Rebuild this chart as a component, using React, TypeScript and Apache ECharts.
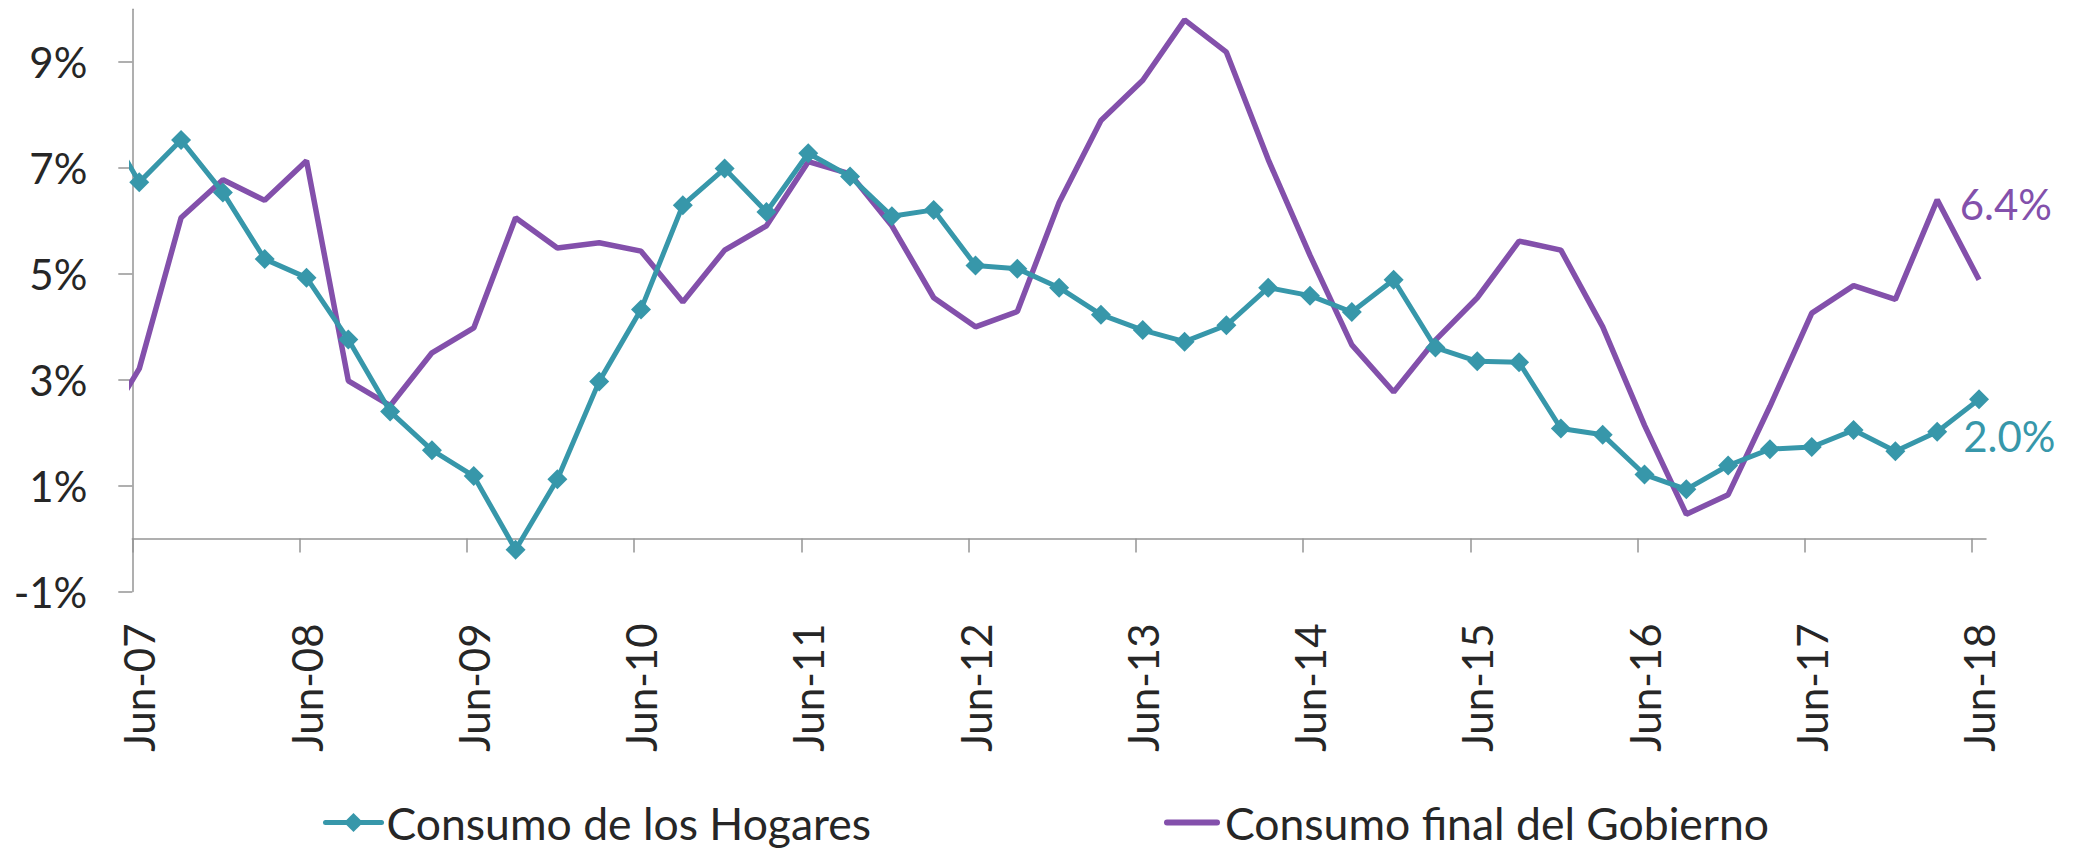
import React, { useEffect, useRef } from 'react';
import * as echarts from 'echarts';

// Quarterly observations (first one lies before the axis start and is clipped)
const quarters = [
  'Mar-07', 'Jun-07', 'Sep-07', 'Dec-07',
  'Mar-08', 'Jun-08', 'Sep-08', 'Dec-08',
  'Mar-09', 'Jun-09', 'Sep-09', 'Dec-09',
  'Mar-10', 'Jun-10', 'Sep-10', 'Dec-10',
  'Mar-11', 'Jun-11', 'Sep-11', 'Dec-11',
  'Mar-12', 'Jun-12', 'Sep-12', 'Dec-12',
  'Mar-13', 'Jun-13', 'Sep-13', 'Dec-13',
  'Mar-14', 'Jun-14', 'Sep-14', 'Dec-14',
  'Mar-15', 'Jun-15', 'Sep-15', 'Dec-15',
  'Mar-16', 'Jun-16', 'Sep-16', 'Dec-16',
  'Mar-17', 'Jun-17', 'Sep-17', 'Dec-17',
  'Mar-18', 'Jun-18',
];

const hogares = [
  8.1, 6.73, 7.53, 6.54, 5.28, 4.93, 3.76, 2.40, 1.67, 1.18,
  -0.21, 1.12, 2.97, 4.33, 6.30, 6.99, 6.17, 7.28, 6.84, 6.09,
  6.21, 5.16, 5.10, 4.74, 4.23, 3.94, 3.72, 4.03, 4.74, 4.59,
  4.28, 4.89, 3.61, 3.35, 3.33, 2.08, 1.96, 1.21, 0.93, 1.38,
  1.69, 1.73, 2.05, 1.65, 2.02, 2.63,
];

const gobierno = [
  1.9, 3.21, 6.06, 6.78, 6.39, 7.14, 2.98, 2.51, 3.51, 3.98,
  6.06, 5.49, 5.59, 5.43, 4.47, 5.45, 5.91, 7.12, 6.89, 5.91,
  4.55, 4.0, 4.29, 6.35, 7.90, 8.66, 9.80, 9.19, 7.16, 5.35,
  3.66, 2.77, 3.75, 4.55, 5.62, 5.45, 4.0, 2.14, 0.46, 0.83,
  2.5, 4.26, 4.78, 4.52, 6.40, 4.89,
];

const tickLabels = [
  'Jun-07', 'Jun-08', 'Jun-09', 'Jun-10', 'Jun-11', 'Jun-12',
  'Jun-13', 'Jun-14', 'Jun-15', 'Jun-16', 'Jun-17', 'Jun-18',
];

const yTicks = [-1, 1, 3, 5, 7, 9];

const seriesNames = ['Consumo de los Hogares', 'Consumo final del Gobierno'];
const labelIndex = quarters.length - 2; // annotated point

const MONTHS = ['Jan', 'Feb', 'Mar', 'Apr', 'May', 'Jun', 'Jul', 'Aug', 'Sep', 'Oct', 'Nov', 'Dec'];
// months since 1 Jun 2007
const monthPos = (q: string) => {
  const [m, y] = q.split('-');
  return (2000 + Number(y) - 2007) * 12 + MONTHS.indexOf(m) - 5;
};
const OBS = 0.5; // observations are mid-month

const TEAL = '#3797AA';
const PURPLE = '#8350AB';
const TEXT = '#262626';
const AXIS = '#959595';
const FONT = 'Lato';
const FS = 42;
const LEGEND_FS = 44.5;

export default function App() {
  const ref = useRef<HTMLDivElement>(null);

  useEffect(() => {
    if (!ref.current) return;
    const chart = echarts.init(ref.current, null, { renderer: 'svg' });

    const tickPos = tickLabels.map((t) => monthPos(t));
    const labelPos = tickLabels.map((t) => monthPos(t) + OBS);

    const mkData = (vals: number[], color: string, isLine: boolean) =>
      quarters.map((q, i) => {
        const item: any = { value: [monthPos(q) + OBS, vals[i]] };
        if (i === labelIndex) {
          if (isLine) {
            item.symbol = 'circle';
            item.symbolSize = 1;
          }
          item.label = {
            show: true,
            position: 'right',
            distance: isLine ? 22 : 16,
            offset: [0, 4],
            formatter: () => vals[i].toFixed(1) + '%',
            color,
            fontSize: FS,
            fontFamily: FONT,
          };
        }
        return item;
      });

    const legendCommon = {
      top: 800,
      padding: 0,
      itemWidth: 56,
      itemHeight: 24,
      textStyle: { fontSize: LEGEND_FS, fontFamily: FONT, color: TEXT },
      lineStyle: { width: 5, cap: 'round' },
      selectedMode: false,
    };

    chart.setOption({
      animation: false,
      backgroundColor: '#ffffff',
      grid: { left: 132.3, right: 89, top: 9.3, bottom: 259.5, containLabel: false },
      legend: [
        { ...legendCommon, left: 323, data: [seriesNames[0]] },
        {
          ...legendCommon,
          left: 1164,
          data: [
            {
              name: seriesNames[1],
              icon: 'path://M3,0 L53,0 A3,3 0 0 1 53,6 L3,6 A3,3 0 0 1 3,0 Z',
            },
          ],
        },
      ],
      xAxis: [
        {
          type: 'value',
          min: 0,
          max: 133,
          position: 'bottom',
          axisLine: { show: false, onZero: false },
          axisTick: { show: false },
          splitLine: { show: false },
          axisLabel: {
            customValues: labelPos,
            formatter: (v: number) => {
              const i = labelPos.findIndex((p) => Math.abs(p - v) < 1e-6);
              return i >= 0 ? tickLabels[i] : '';
            },
            rotate: 90,
            margin: 32,
            fontSize: FS,
            fontFamily: FONT,
            color: TEXT,
          },
        },
        {
          type: 'value',
          min: 0,
          max: 133,
          position: 'top',
          axisLine: {
            show: true,
            onZero: true,
            onZeroAxisIndex: 0,
            lineStyle: { color: AXIS, width: 1.5 },
          },
          axisTick: {
            show: true,
            inside: true,
            length: 14,
            customValues: tickPos,
            lineStyle: { color: AXIS, width: 1.5 },
          },
          axisLabel: { show: false },
          splitLine: { show: false },
        },
      ],
      yAxis: {
        type: 'value',
        min: -1,
        max: 10,
        axisLine: { show: true, onZero: false, lineStyle: { color: AXIS, width: 1.5 } },
        axisTick: { show: true, length: 14, customValues: yTicks, lineStyle: { color: AXIS, width: 1.5 } },
        axisLabel: {
          customValues: yTicks,
          formatter: '{value}%',
          margin: 45,
          fontSize: FS,
          fontFamily: FONT,
          color: TEXT,
        },
        splitLine: { show: false },
      },
      series: [
        {
          name: seriesNames[0],
          type: 'line',
          xAxisIndex: 0,
          data: mkData(hogares, TEAL, false),
          symbol: 'diamond',
          symbolSize: 20,
          lineStyle: { color: TEAL, width: 5 },
          itemStyle: { color: TEAL },
          clip: true,
          z: 3,
        },
        {
          name: seriesNames[1],
          type: 'line',
          xAxisIndex: 0,
          data: mkData(gobierno, PURPLE, true),
          symbol: 'none',
          lineStyle: { color: PURPLE, width: 5.5 },
          itemStyle: { color: PURPLE },
          clip: true,
          z: 2,
        },
      ],
    });

    return () => chart.dispose();
  }, []);

  return (
    <div
      ref={ref}
      style={{ position: 'absolute', left: 0, top: 0, width: 2075, height: 851 }}
    />
  );
}
